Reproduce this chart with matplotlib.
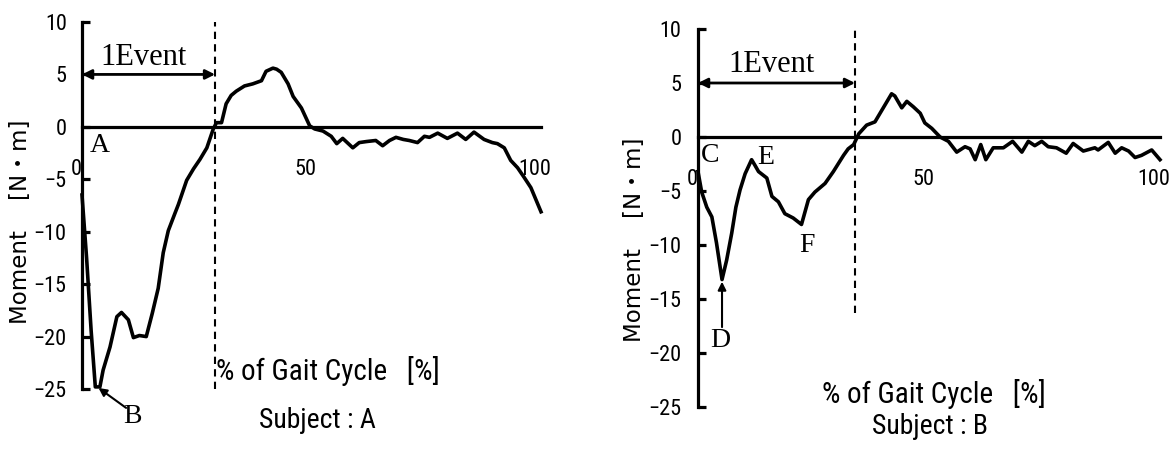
import matplotlib
matplotlib.use("Agg")
import matplotlib.pyplot as plt
import matplotlib.transforms as mtransforms

# Ankle moment over one gait cycle, subject A
pct_a = [0, 1.0, 2.0, 2.9, 3.9, 4.6, 6.1, 7.6, 8.6, 10.1, 11.2, 12.5, 14.0, 15.3,
         16.6, 17.7, 18.8, 20.2, 21.0, 22.8, 24.3, 25.7, 27.2, 28.6, 29.3, 30.4,
         31.4, 32.5, 33.6, 35.4, 37.2, 39.1, 40.1, 41.6, 42.4, 43.4, 44.9, 46.0,
         47.8, 49.6, 50.7, 52.5, 54.3, 55.5, 56.8, 59.0, 60.4, 62.0, 64.0, 65.5,
         67.0, 68.4, 70.0, 71.3, 73.1, 74.6, 75.7, 77.5, 79.6, 81.8, 83.6, 85.4,
         87.6, 89.4, 90.5, 92.0, 93.4, 94.9, 96.3, 97.8, 100]
moment_a = [-6.5, -12.5, -19.5, -24.8, -24.8, -23.2, -21.0, -18.1, -17.7, -18.4,
            -20.1, -19.9, -20.0, -17.8, -15.4, -12.0, -9.9, -8.3, -7.4, -5.1,
            -4.0, -3.1, -2.0, -0.2, 0.4, 0.4, 2.2, 3.0, 3.4, 3.9, 4.1, 4.4, 5.3,
            5.6, 5.5, 5.2, 4.1, 2.9, 1.8, 0.1, -0.2, -0.4, -0.9, -1.6, -1.1, -2.0,
            -1.5, -1.4, -1.3, -1.8, -1.3, -1.0, -1.2, -1.3, -1.5, -0.9, -1.0, -0.6,
            -1.1, -0.6, -1.2, -0.5, -1.2, -1.5, -1.6, -2.0, -3.2, -3.9, -4.8, -5.8,
            -8.1]

# Ankle moment over one gait cycle, subject B
pct_b = [0, 0.8, 1.9, 3.0, 4.0, 5.2, 6.2, 7.3, 8.2, 9.1, 10.2, 11.6, 12.3, 13.1,
         14.0, 14.9, 16.0, 17.4, 18.8, 20.6, 22.4, 23.9, 25.3, 27.5, 29.3, 31.5,
         32.5, 33.7, 34.8, 36.5, 38.3, 40.1, 41.9, 42.6, 44.1, 45.2, 46.6, 48.1,
         49.1, 50.6, 52.4, 54.2, 56.0, 57.8, 58.9, 60.0, 61.2, 62.3, 63.9, 66.1,
         68.1, 70.1, 71.5, 72.9, 74.4, 75.8, 77.6, 79.7, 81.2, 83.4, 85.9, 86.6,
         88.8, 90.3, 91.7, 93.2, 94.6, 96.0, 98.2, 100]
moment_b = [-3.2, -5.1, -6.5, -7.4, -9.8, -13.2, -11.4, -8.9, -6.5, -4.9, -3.4,
            -2.1, -2.6, -3.2, -3.5, -3.8, -5.5, -6.0, -7.1, -7.5, -8.1, -5.8,
            -5.1, -4.3, -3.2, -1.7, -1.1, -0.7, 0.3, 1.1, 1.4, 2.7, 4.0, 3.8, 2.7,
            3.3, 2.8, 2.2, 1.3, 0.8, 0.0, -0.4, -1.4, -0.9, -1.1, -2.1, -0.7, -2.1,
            -1.0, -1.0, -0.4, -1.4, -0.4, -0.8, -0.4, -0.9, -1.0, -1.5, -0.6, -1.3,
            -1.0, -1.2, -0.5, -1.5, -1.0, -1.3, -1.9, -1.7, -1.2, -2.1]

y_ticks = [10, 5, 0, -5, -10, -15, -20, -25]
x_ticks = [0, 50, 100]
x_tick_labels = ["0", "50", "100"]

event_end_a = 29.0
event_end_b = 34.0

# narrow sans for ticks and axis titles, serif for the point labels
SANS = ["Roboto Condensed", "Noto Sans Condensed", "DejaVu Sans Condensed",
        "Liberation Sans Narrow", "DejaVu Sans"]
SERIF = ["Liberation Serif", "DejaVu Serif"]
plt.rcParams["font.family"] = SANS
plt.rcParams["font.stretch"] = "condensed"

W, H = 1176, 449
fig = plt.figure(figsize=(W / 100, H / 100), dpi=100)


def axes_px(left, right, top, bottom):
    return fig.add_axes([left / W, 1 - bottom / H, (right - left) / W, (bottom - top) / H])


def style_axes(ax, ypad):
    ax.set_xlim(0, 100)
    ax.set_ylim(-25, 10)
    ax.spines["top"].set_visible(False)
    ax.spines["right"].set_visible(False)
    ax.spines["left"].set_linewidth(2.3)
    ax.spines["bottom"].set_position(("data", 0))
    ax.spines["bottom"].set_linewidth(2.3)
    ax.set_yticks(y_ticks)
    ax.set_xticks(x_ticks)
    ax.set_xticklabels(x_tick_labels)
    ax.tick_params(axis="y", direction="in", length=6, width=2.3, pad=ypad, labelsize=16)
    ax.tick_params(axis="x", length=0, pad=23, labelsize=16)
    shift = mtransforms.ScaledTranslation(-6 / 100, 0, fig.dpi_scale_trans)
    for lab in ax.get_xticklabels():
        lab.set_transform(lab.get_transform() + shift)


def draw_panel(ax, pct, moment, event_end, event_bottom, event_text_xy):
    ax.plot(pct, moment, color="black", lw=2.6, clip_on=False,
            solid_joinstyle="round", zorder=3)
    ax.plot([event_end, event_end], [event_bottom, 10], color="black", lw=1.5,
            ls=(0, (3.5, 2.5)), clip_on=False, zorder=2)
    ax.annotate("", xy=(event_end, 5), xytext=(0, 5),
                arrowprops=dict(arrowstyle="<|-|>", color="black", lw=2.0,
                                mutation_scale=14, shrinkA=0, shrinkB=0))
    ax.text(*event_text_xy, "1Event", family=SERIF, stretch="normal", fontsize=22,
            ha="center", va="center")


def letter(ax, x, y, s):
    ax.text(x, y, s, family=SERIF, stretch="normal", fontsize=20,
            ha="center", va="center")


ax_a = axes_px(82, 541, 22, 389)
ax_b = axes_px(698, 1160, 29, 407)
style_axes(ax_a, 11)
style_axes(ax_b, 12)

# Subject A
draw_panel(ax_a, pct_a, moment_a, event_end_a, -25, (13.5, 6.6))
letter(ax_a, 3.9, -1.8, "A")
letter(ax_a, 11.1, -27.6, "B")
ax_a.annotate("", xy=(3.6, -24.9), xytext=(9.6, -26.8),
              arrowprops=dict(arrowstyle="-|>", color="black", lw=1.5,
                              mutation_scale=12, shrinkA=0, shrinkB=0))

# Subject B
draw_panel(ax_b, pct_b, moment_b, event_end_b, -16.3, (16.0, 6.7))
letter(ax_b, 2.6, -1.7, "C")
letter(ax_b, 14.7, -1.9, "E")
letter(ax_b, 23.6, -10.0, "F")
letter(ax_b, 4.8, -18.8, "D")
ax_b.annotate("", xy=(5.2, -13.4), xytext=(5.2, -17.6),
              arrowprops=dict(arrowstyle="-|>", color="black", lw=1.5,
                              mutation_scale=12, shrinkA=0, shrinkB=0))

# Axis titles
ylab = "Moment\u2003 [N\u30fbm]"
ylab_family = ["DejaVu Sans", "Noto Sans CJK JP"]
fig.text(21 / W, 1 - 222 / H, ylab, rotation=90, ha="center", va="center",
         family=ylab_family, stretch="normal", fontsize=16.5)
fig.text(635 / W, 1 - 240 / H, ylab, rotation=90, ha="center", va="center",
         family=ylab_family, stretch="normal", fontsize=16.5)

fig.text(328 / W, 1 - 371 / H, "% of Gait Cycle\u2002 [%]", ha="center", va="center",
         fontsize=21)
fig.text(934 / W, 1 - 394 / H, "% of Gait Cycle\u2002 [%]", ha="center", va="center",
         fontsize=21)
fig.text(317 / W, 1 - 420 / H, "Subject : A", ha="center", va="center", fontsize=20)
fig.text(930 / W, 1 - 427 / H, "Subject : B", ha="center", va="center", fontsize=20)

fig.savefig("out.png", dpi=100, facecolor="white")
